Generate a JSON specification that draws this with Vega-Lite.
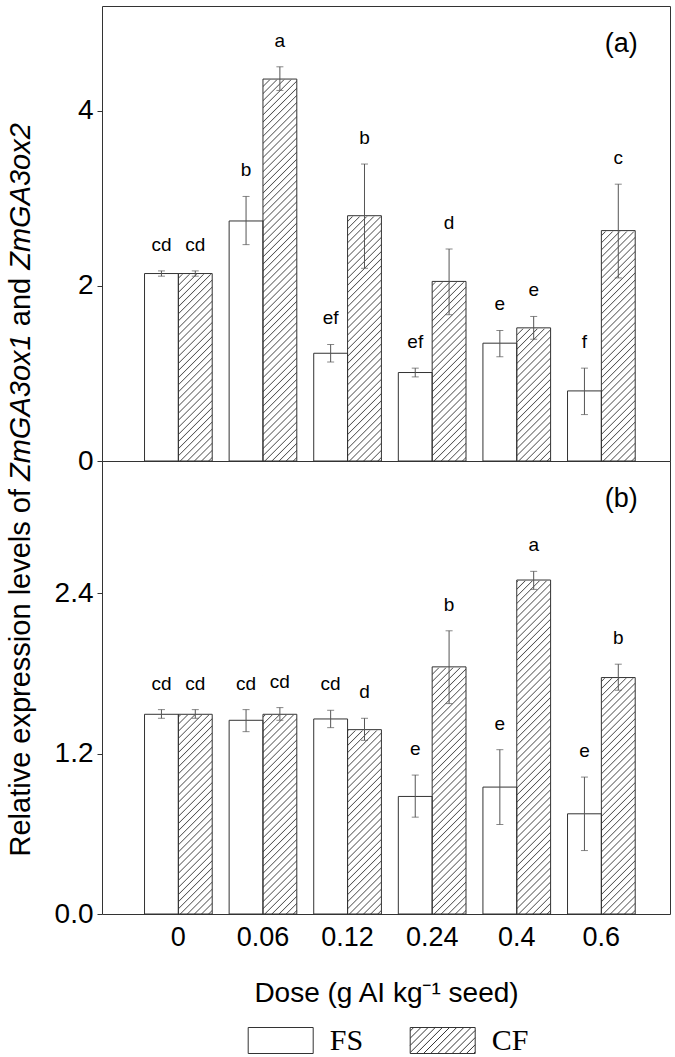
{
"$schema": "https://vega.github.io/schema/vega-lite/v6.json",
"background": "white",
"padding": 5,
"autosize": "pad",
"datasets": {
"bars": [
{"panel":"a","dose":"0","series":"FS","value":2.14,"lo":2.11,"hi":2.17,"letter":"cd"},
{"panel":"a","dose":"0","series":"CF","value":2.14,"lo":2.11,"hi":2.17,"letter":"cd"},
{"panel":"a","dose":"0.06","series":"FS","value":2.74,"lo":2.47,"hi":3.02,"letter":"b"},
{"panel":"a","dose":"0.06","series":"CF","value":4.36,"lo":4.23,"hi":4.5,"letter":"a"},
{"panel":"a","dose":"0.12","series":"FS","value":1.23,"lo":1.13,"hi":1.33,"letter":"ef"},
{"panel":"a","dose":"0.12","series":"CF","value":2.8,"lo":2.2,"hi":3.39,"letter":"b"},
{"panel":"a","dose":"0.24","series":"FS","value":1.01,"lo":0.96,"hi":1.06,"letter":"ef"},
{"panel":"a","dose":"0.24","series":"CF","value":2.05,"lo":1.67,"hi":2.42,"letter":"d"},
{"panel":"a","dose":"0.4","series":"FS","value":1.345,"lo":1.19,"hi":1.49,"letter":"e"},
{"panel":"a","dose":"0.4","series":"CF","value":1.52,"lo":1.39,"hi":1.65,"letter":"e"},
{"panel":"a","dose":"0.6","series":"FS","value":0.8,"lo":0.53,"hi":1.06,"letter":"f"},
{"panel":"a","dose":"0.6","series":"CF","value":2.63,"lo":2.09,"hi":3.16,"letter":"c"},
{"panel":"b","dose":"0","series":"FS","value":1.495,"lo":1.465,"hi":1.53,"letter":"cd"},
{"panel":"b","dose":"0","series":"CF","value":1.495,"lo":1.465,"hi":1.53,"letter":"cd"},
{"panel":"b","dose":"0.06","series":"FS","value":1.45,"lo":1.365,"hi":1.53,"letter":"cd"},
{"panel":"b","dose":"0.06","series":"CF","value":1.495,"lo":1.45,"hi":1.545,"letter":"cd"},
{"panel":"b","dose":"0.12","series":"FS","value":1.46,"lo":1.395,"hi":1.525,"letter":"cd"},
{"panel":"b","dose":"0.12","series":"CF","value":1.38,"lo":1.3,"hi":1.465,"letter":"d"},
{"panel":"b","dose":"0.24","series":"FS","value":0.88,"lo":0.725,"hi":1.04,"letter":"e"},
{"panel":"b","dose":"0.24","series":"CF","value":1.85,"lo":1.575,"hi":2.12,"letter":"b"},
{"panel":"b","dose":"0.4","series":"FS","value":0.95,"lo":0.67,"hi":1.23,"letter":"e"},
{"panel":"b","dose":"0.4","series":"CF","value":2.5,"lo":2.43,"hi":2.565,"letter":"a"},
{"panel":"b","dose":"0.6","series":"FS","value":0.75,"lo":0.475,"hi":1.025,"letter":"e"},
{"panel":"b","dose":"0.6","series":"CF","value":1.77,"lo":1.675,"hi":1.87,"letter":"b"}
]
},
"data": {"name": "bars"},
"config": {
"font": "Liberation Sans",
"view": {"stroke": "#333333", "strokeWidth": 1},
"axis": {"labelFont": "Liberation Sans", "labelColor": "#000000", "titleFont": "Liberation Sans", "titleColor": "#000000", "titleFontWeight": "normal", "domain": false, "grid": false, "tickColor": "#333333"}
},
"spacing": 0,
"bounds": "flush",
"vconcat": [
{
"width": 568,
"height": 455,
"transform": [{"filter": "datum.panel === 'a'"}],
"resolve": {"axis": {"y": "independent"}},
"layer": [
{
"transform": [{"filter": "datum.series === 'CF'"}],
"mark": {"type": "bar", "strokeWidth": 0, "fill": {"gradient": "linear", "x1": 0, "y1": 0, "x2": 0.08874, "y2": 1.0752, "stops": [
{"offset":0,"color":"#fff"},
{"offset":0.0135,"color":"#fff"},{"offset":0.016,"color":"#555"},{"offset":0.0185,"color":"#fff"},
{"offset":0.0295,"color":"#fff"},{"offset":0.032,"color":"#555"},{"offset":0.0345,"color":"#fff"},
{"offset":0.0455,"color":"#fff"},{"offset":0.048,"color":"#555"},{"offset":0.0505,"color":"#fff"},
{"offset":0.0615,"color":"#fff"},{"offset":0.064,"color":"#555"},{"offset":0.0665,"color":"#fff"},
{"offset":0.0775,"color":"#fff"},{"offset":0.08,"color":"#555"},{"offset":0.0825,"color":"#fff"},
{"offset":0.0935,"color":"#fff"},{"offset":0.096,"color":"#555"},{"offset":0.0985,"color":"#fff"},
{"offset":0.1095,"color":"#fff"},{"offset":0.112,"color":"#555"},{"offset":0.1145,"color":"#fff"},
{"offset":0.1255,"color":"#fff"},{"offset":0.128,"color":"#555"},{"offset":0.1305,"color":"#fff"},
{"offset":0.1415,"color":"#fff"},{"offset":0.144,"color":"#555"},{"offset":0.1465,"color":"#fff"},
{"offset":0.1575,"color":"#fff"},{"offset":0.16,"color":"#555"},{"offset":0.1625,"color":"#fff"},
{"offset":0.1735,"color":"#fff"},{"offset":0.176,"color":"#555"},{"offset":0.1785,"color":"#fff"},
{"offset":0.1895,"color":"#fff"},{"offset":0.192,"color":"#555"},{"offset":0.1945,"color":"#fff"},
{"offset":0.2055,"color":"#fff"},{"offset":0.208,"color":"#555"},{"offset":0.2105,"color":"#fff"},
{"offset":0.2215,"color":"#fff"},{"offset":0.224,"color":"#555"},{"offset":0.2265,"color":"#fff"},
{"offset":0.2375,"color":"#fff"},{"offset":0.24,"color":"#555"},{"offset":0.2425,"color":"#fff"},
{"offset":0.2535,"color":"#fff"},{"offset":0.256,"color":"#555"},{"offset":0.2585,"color":"#fff"},
{"offset":0.2695,"color":"#fff"},{"offset":0.272,"color":"#555"},{"offset":0.2745,"color":"#fff"},
{"offset":0.2855,"color":"#fff"},{"offset":0.288,"color":"#555"},{"offset":0.2905,"color":"#fff"},
{"offset":0.3015,"color":"#fff"},{"offset":0.304,"color":"#555"},{"offset":0.3065,"color":"#fff"},
{"offset":0.3175,"color":"#fff"},{"offset":0.32,"color":"#555"},{"offset":0.3225,"color":"#fff"},
{"offset":0.3335,"color":"#fff"},{"offset":0.336,"color":"#555"},{"offset":0.3385,"color":"#fff"},
{"offset":0.3495,"color":"#fff"},{"offset":0.352,"color":"#555"},{"offset":0.3545,"color":"#fff"},
{"offset":0.3655,"color":"#fff"},{"offset":0.368,"color":"#555"},{"offset":0.3705,"color":"#fff"},
{"offset":0.3815,"color":"#fff"},{"offset":0.384,"color":"#555"},{"offset":0.3865,"color":"#fff"},
{"offset":0.3975,"color":"#fff"},{"offset":0.4,"color":"#555"},{"offset":0.4025,"color":"#fff"},
{"offset":0.4135,"color":"#fff"},{"offset":0.416,"color":"#555"},{"offset":0.4185,"color":"#fff"},
{"offset":0.4295,"color":"#fff"},{"offset":0.432,"color":"#555"},{"offset":0.4345,"color":"#fff"},
{"offset":0.4455,"color":"#fff"},{"offset":0.448,"color":"#555"},{"offset":0.4505,"color":"#fff"},
{"offset":0.4615,"color":"#fff"},{"offset":0.464,"color":"#555"},{"offset":0.4665,"color":"#fff"},
{"offset":0.4775,"color":"#fff"},{"offset":0.48,"color":"#555"},{"offset":0.4825,"color":"#fff"},
{"offset":0.4935,"color":"#fff"},{"offset":0.496,"color":"#555"},{"offset":0.4985,"color":"#fff"},
{"offset":0.5095,"color":"#fff"},{"offset":0.512,"color":"#555"},{"offset":0.5145,"color":"#fff"},
{"offset":0.5255,"color":"#fff"},{"offset":0.528,"color":"#555"},{"offset":0.5305,"color":"#fff"},
{"offset":0.5415,"color":"#fff"},{"offset":0.544,"color":"#555"},{"offset":0.5465,"color":"#fff"},
{"offset":0.5575,"color":"#fff"},{"offset":0.56,"color":"#555"},{"offset":0.5625,"color":"#fff"},
{"offset":0.5735,"color":"#fff"},{"offset":0.576,"color":"#555"},{"offset":0.5785,"color":"#fff"},
{"offset":0.5895,"color":"#fff"},{"offset":0.592,"color":"#555"},{"offset":0.5945,"color":"#fff"},
{"offset":0.6055,"color":"#fff"},{"offset":0.608,"color":"#555"},{"offset":0.6105,"color":"#fff"},
{"offset":0.6215,"color":"#fff"},{"offset":0.624,"color":"#555"},{"offset":0.6265,"color":"#fff"},
{"offset":0.6375,"color":"#fff"},{"offset":0.64,"color":"#555"},{"offset":0.6425,"color":"#fff"},
{"offset":0.6535,"color":"#fff"},{"offset":0.656,"color":"#555"},{"offset":0.6585,"color":"#fff"},
{"offset":0.6695,"color":"#fff"},{"offset":0.672,"color":"#555"},{"offset":0.6745,"color":"#fff"},
{"offset":0.6855,"color":"#fff"},{"offset":0.688,"color":"#555"},{"offset":0.6905,"color":"#fff"},
{"offset":0.7015,"color":"#fff"},{"offset":0.704,"color":"#555"},{"offset":0.7065,"color":"#fff"},
{"offset":0.7175,"color":"#fff"},{"offset":0.72,"color":"#555"},{"offset":0.7225,"color":"#fff"},
{"offset":0.7335,"color":"#fff"},{"offset":0.736,"color":"#555"},{"offset":0.7385,"color":"#fff"},
{"offset":0.7495,"color":"#fff"},{"offset":0.752,"color":"#555"},{"offset":0.7545,"color":"#fff"},
{"offset":0.7655,"color":"#fff"},{"offset":0.768,"color":"#555"},{"offset":0.7705,"color":"#fff"},
{"offset":0.7815,"color":"#fff"},{"offset":0.784,"color":"#555"},{"offset":0.7865,"color":"#fff"},
{"offset":0.7975,"color":"#fff"},{"offset":0.8,"color":"#555"},{"offset":0.8025,"color":"#fff"},
{"offset":0.8135,"color":"#fff"},{"offset":0.816,"color":"#555"},{"offset":0.8185,"color":"#fff"},
{"offset":0.8295,"color":"#fff"},{"offset":0.832,"color":"#555"},{"offset":0.8345,"color":"#fff"},
{"offset":0.8455,"color":"#fff"},{"offset":0.848,"color":"#555"},{"offset":0.8505,"color":"#fff"},
{"offset":0.8615,"color":"#fff"},{"offset":0.864,"color":"#555"},{"offset":0.8665,"color":"#fff"},
{"offset":0.8775,"color":"#fff"},{"offset":0.88,"color":"#555"},{"offset":0.8825,"color":"#fff"},
{"offset":0.8935,"color":"#fff"},{"offset":0.896,"color":"#555"},{"offset":0.8985,"color":"#fff"},
{"offset":0.9095,"color":"#fff"},{"offset":0.912,"color":"#555"},{"offset":0.9145,"color":"#fff"},
{"offset":0.9255,"color":"#fff"},{"offset":0.928,"color":"#555"},{"offset":0.9305,"color":"#fff"},
{"offset":0.9415,"color":"#fff"},{"offset":0.944,"color":"#555"},{"offset":0.9465,"color":"#fff"},
{"offset":0.9575,"color":"#fff"},{"offset":0.96,"color":"#555"},{"offset":0.9625,"color":"#fff"},
{"offset":0.9735,"color":"#fff"},{"offset":0.976,"color":"#555"},{"offset":0.9785,"color":"#fff"},
{"offset":0.9895,"color":"#fff"},{"offset":0.992,"color":"#555"},{"offset":0.9945,"color":"#fff"},
{"offset":1,"color":"#fff"}]}},
"encoding": {
"x": {"field": "dose", "type": "ordinal", "scale": {"domain": ["0","0.06","0.12","0.24","0.4","0.6"], "paddingInner": 0.2, "paddingOuter": 0.457, "align": 0.55}, "axis": null},
"xOffset": {"field": "series", "type": "nominal", "scale": {"domain": ["FS","CF"], "paddingInner": 0, "paddingOuter": 0}},
"y": {"datum": 4.68, "type": "quantitative", "scale": {"domain": [0, 5.194], "nice": false, "zero": true}, "axis": null},
"y2": {"datum": 0}
}
},
{
"transform": [{"filter": "datum.series === 'CF'"}],
"mark": {"type": "bar", "fill": "white", "stroke": "white", "strokeWidth": 1.6},
"encoding": {
"x": {"field": "dose", "type": "ordinal", "scale": {"domain": ["0","0.06","0.12","0.24","0.4","0.6"], "paddingInner": 0.2, "paddingOuter": 0.457, "align": 0.55}, "axis": null},
"xOffset": {"field": "series", "type": "nominal", "scale": {"domain": ["FS","CF"], "paddingInner": 0, "paddingOuter": 0}},
"y": {"field": "value", "type": "quantitative", "scale": {"domain": [0, 5.194], "nice": false, "zero": true}, "axis": null},
"y2": {"datum": 4.68}
}
},
{
"mark": {"type": "bar", "stroke": "#333333", "strokeWidth": 1},
"encoding": {
"x": {"field": "dose", "type": "ordinal", "scale": {"domain": ["0","0.06","0.12","0.24","0.4","0.6"], "paddingInner": 0.2, "paddingOuter": 0.457, "align": 0.55}, "axis": null},
"xOffset": {"field": "series", "type": "nominal", "scale": {"domain": ["FS","CF"], "paddingInner": 0, "paddingOuter": 0}},
"y": {"field": "value", "type": "quantitative", "scale": {"domain": [0, 5.194], "nice": false, "zero": true},
 "axis": {"orient": "left", "values": [0, 2, 4], "format": "d", "labelFontSize": 28, "labelPadding": 4, "ticks": true, "tickSize": 5, "domain": false, "grid": false,
  "title": "and", "titleFontSize": 29, "titleFontStyle": "normal", "titleAngle": 270, "titleAlign": "left", "titleBaseline": "top", "titleX": -96, "titleY": 319.7}},
"fill": {"condition": {"test": "datum.series === 'FS'", "value": "white"}, "value": "rgba(0,0,0,0)"}
}
},
{
"mark": {"type": "rule", "color": "#555555", "strokeWidth": 1},
"encoding": {
"x": {"field": "dose", "type": "ordinal", "scale": {"domain": ["0","0.06","0.12","0.24","0.4","0.6"], "paddingInner": 0.2, "paddingOuter": 0.457, "align": 0.55}, "axis": null},
"xOffset": {"field": "series", "type": "nominal", "scale": {"domain": ["FS","CF"], "paddingInner": 0, "paddingOuter": 0}},
"y": {"field": "lo", "type": "quantitative", "scale": {"domain": [0, 5.194], "nice": false, "zero": true}, "axis": null},
"y2": {"field": "hi"}
}
},
{
"mark": {"type": "tick", "color": "#555555", "size": 7, "thickness": 1},
"encoding": {
"x": {"field": "dose", "type": "ordinal", "scale": {"domain": ["0","0.06","0.12","0.24","0.4","0.6"], "paddingInner": 0.2, "paddingOuter": 0.457, "align": 0.55}, "axis": null},
"xOffset": {"field": "series", "type": "nominal", "scale": {"domain": ["FS","CF"], "paddingInner": 0, "paddingOuter": 0}},
"y": {"field": "lo", "type": "quantitative", "scale": {"domain": [0, 5.194], "nice": false, "zero": true}, "axis": null}
}
},
{
"mark": {"type": "tick", "color": "#555555", "size": 7, "thickness": 1},
"encoding": {
"x": {"field": "dose", "type": "ordinal", "scale": {"domain": ["0","0.06","0.12","0.24","0.4","0.6"], "paddingInner": 0.2, "paddingOuter": 0.457, "align": 0.55}, "axis": null},
"xOffset": {"field": "series", "type": "nominal", "scale": {"domain": ["FS","CF"], "paddingInner": 0, "paddingOuter": 0}},
"y": {"field": "hi", "type": "quantitative", "scale": {"domain": [0, 5.194], "nice": false, "zero": true}, "axis": null}
}
},
{
"mark": {"type": "text", "fontSize": 19, "baseline": "middle", "align": "center", "dy": -26, "color": "#000000", "font": "Liberation Sans"},
"encoding": {
"x": {"field": "dose", "type": "ordinal", "scale": {"domain": ["0","0.06","0.12","0.24","0.4","0.6"], "paddingInner": 0.2, "paddingOuter": 0.457, "align": 0.55}, "axis": null},
"xOffset": {"field": "series", "type": "nominal", "scale": {"domain": ["FS","CF"], "paddingInner": 0, "paddingOuter": 0}},
"y": {"field": "hi", "type": "quantitative", "scale": {"domain": [0, 5.194], "nice": false, "zero": true},
 "axis": {"orient": "left", "labels": false, "ticks": false, "domain": false, "grid": false,
  "title": "ZmGA3ox2", "titleFontSize": 29, "titleFontStyle": "italic", "titleAngle": 270, "titleAlign": "left", "titleBaseline": "top", "titleX": -96, "titleY": 263.3}},
"text": {"field": "letter"}
}
},
{
"data": {"values": [{"label": "(a)"}]},
"mark": {"type": "text", "fontSize": 27, "baseline": "middle", "align": "center", "dx": 3, "color": "#000000", "font": "Liberation Sans"},
"encoding": {
"x": {"datum": "0.6", "type": "ordinal", "scale": {"domain": ["0","0.06","0.12","0.24","0.4","0.6"], "paddingInner": 0.2, "paddingOuter": 0.457, "align": 0.55}, "axis": null},
"xOffset": {"datum": "CF", "type": "nominal", "scale": {"domain": ["FS","CF"], "paddingInner": 0, "paddingOuter": 0}},
"y": {"datum": 4.76, "type": "quantitative", "scale": {"domain": [0, 5.194], "nice": false, "zero": true}, "axis": null},
"text": {"field": "label"}
}
}
]
},
{
"width": 568,
"height": 453,
"transform": [{"filter": "datum.panel === 'b'"}],
"resolve": {"axis": {"y": "independent"}},
"layer": [
{
"transform": [{"filter": "datum.series === 'CF'"}],
"mark": {"type": "bar", "strokeWidth": 0, "fill": {"gradient": "linear", "x1": 0, "y1": 0, "x2": 0.08874, "y2": 1.0752, "stops": [
{"offset":0,"color":"#fff"},
{"offset":0.0135,"color":"#fff"},{"offset":0.016,"color":"#555"},{"offset":0.0185,"color":"#fff"},
{"offset":0.0295,"color":"#fff"},{"offset":0.032,"color":"#555"},{"offset":0.0345,"color":"#fff"},
{"offset":0.0455,"color":"#fff"},{"offset":0.048,"color":"#555"},{"offset":0.0505,"color":"#fff"},
{"offset":0.0615,"color":"#fff"},{"offset":0.064,"color":"#555"},{"offset":0.0665,"color":"#fff"},
{"offset":0.0775,"color":"#fff"},{"offset":0.08,"color":"#555"},{"offset":0.0825,"color":"#fff"},
{"offset":0.0935,"color":"#fff"},{"offset":0.096,"color":"#555"},{"offset":0.0985,"color":"#fff"},
{"offset":0.1095,"color":"#fff"},{"offset":0.112,"color":"#555"},{"offset":0.1145,"color":"#fff"},
{"offset":0.1255,"color":"#fff"},{"offset":0.128,"color":"#555"},{"offset":0.1305,"color":"#fff"},
{"offset":0.1415,"color":"#fff"},{"offset":0.144,"color":"#555"},{"offset":0.1465,"color":"#fff"},
{"offset":0.1575,"color":"#fff"},{"offset":0.16,"color":"#555"},{"offset":0.1625,"color":"#fff"},
{"offset":0.1735,"color":"#fff"},{"offset":0.176,"color":"#555"},{"offset":0.1785,"color":"#fff"},
{"offset":0.1895,"color":"#fff"},{"offset":0.192,"color":"#555"},{"offset":0.1945,"color":"#fff"},
{"offset":0.2055,"color":"#fff"},{"offset":0.208,"color":"#555"},{"offset":0.2105,"color":"#fff"},
{"offset":0.2215,"color":"#fff"},{"offset":0.224,"color":"#555"},{"offset":0.2265,"color":"#fff"},
{"offset":0.2375,"color":"#fff"},{"offset":0.24,"color":"#555"},{"offset":0.2425,"color":"#fff"},
{"offset":0.2535,"color":"#fff"},{"offset":0.256,"color":"#555"},{"offset":0.2585,"color":"#fff"},
{"offset":0.2695,"color":"#fff"},{"offset":0.272,"color":"#555"},{"offset":0.2745,"color":"#fff"},
{"offset":0.2855,"color":"#fff"},{"offset":0.288,"color":"#555"},{"offset":0.2905,"color":"#fff"},
{"offset":0.3015,"color":"#fff"},{"offset":0.304,"color":"#555"},{"offset":0.3065,"color":"#fff"},
{"offset":0.3175,"color":"#fff"},{"offset":0.32,"color":"#555"},{"offset":0.3225,"color":"#fff"},
{"offset":0.3335,"color":"#fff"},{"offset":0.336,"color":"#555"},{"offset":0.3385,"color":"#fff"},
{"offset":0.3495,"color":"#fff"},{"offset":0.352,"color":"#555"},{"offset":0.3545,"color":"#fff"},
{"offset":0.3655,"color":"#fff"},{"offset":0.368,"color":"#555"},{"offset":0.3705,"color":"#fff"},
{"offset":0.3815,"color":"#fff"},{"offset":0.384,"color":"#555"},{"offset":0.3865,"color":"#fff"},
{"offset":0.3975,"color":"#fff"},{"offset":0.4,"color":"#555"},{"offset":0.4025,"color":"#fff"},
{"offset":0.4135,"color":"#fff"},{"offset":0.416,"color":"#555"},{"offset":0.4185,"color":"#fff"},
{"offset":0.4295,"color":"#fff"},{"offset":0.432,"color":"#555"},{"offset":0.4345,"color":"#fff"},
{"offset":0.4455,"color":"#fff"},{"offset":0.448,"color":"#555"},{"offset":0.4505,"color":"#fff"},
{"offset":0.4615,"color":"#fff"},{"offset":0.464,"color":"#555"},{"offset":0.4665,"color":"#fff"},
{"offset":0.4775,"color":"#fff"},{"offset":0.48,"color":"#555"},{"offset":0.4825,"color":"#fff"},
{"offset":0.4935,"color":"#fff"},{"offset":0.496,"color":"#555"},{"offset":0.4985,"color":"#fff"},
{"offset":0.5095,"color":"#fff"},{"offset":0.512,"color":"#555"},{"offset":0.5145,"color":"#fff"},
{"offset":0.5255,"color":"#fff"},{"offset":0.528,"color":"#555"},{"offset":0.5305,"color":"#fff"},
{"offset":0.5415,"color":"#fff"},{"offset":0.544,"color":"#555"},{"offset":0.5465,"color":"#fff"},
{"offset":0.5575,"color":"#fff"},{"offset":0.56,"color":"#555"},{"offset":0.5625,"color":"#fff"},
{"offset":0.5735,"color":"#fff"},{"offset":0.576,"color":"#555"},{"offset":0.5785,"color":"#fff"},
{"offset":0.5895,"color":"#fff"},{"offset":0.592,"color":"#555"},{"offset":0.5945,"color":"#fff"},
{"offset":0.6055,"color":"#fff"},{"offset":0.608,"color":"#555"},{"offset":0.6105,"color":"#fff"},
{"offset":0.6215,"color":"#fff"},{"offset":0.624,"color":"#555"},{"offset":0.6265,"color":"#fff"},
{"offset":0.6375,"color":"#fff"},{"offset":0.64,"color":"#555"},{"offset":0.6425,"color":"#fff"},
{"offset":0.6535,"color":"#fff"},{"offset":0.656,"color":"#555"},{"offset":0.6585,"color":"#fff"},
{"offset":0.6695,"color":"#fff"},{"offset":0.672,"color":"#555"},{"offset":0.6745,"color":"#fff"},
{"offset":0.6855,"color":"#fff"},{"offset":0.688,"color":"#555"},{"offset":0.6905,"color":"#fff"},
{"offset":0.7015,"color":"#fff"},{"offset":0.704,"color":"#555"},{"offset":0.7065,"color":"#fff"},
{"offset":0.7175,"color":"#fff"},{"offset":0.72,"color":"#555"},{"offset":0.7225,"color":"#fff"},
{"offset":0.7335,"color":"#fff"},{"offset":0.736,"color":"#555"},{"offset":0.7385,"color":"#fff"},
{"offset":0.7495,"color":"#fff"},{"offset":0.752,"color":"#555"},{"offset":0.7545,"color":"#fff"},
{"offset":0.7655,"color":"#fff"},{"offset":0.768,"color":"#555"},{"offset":0.7705,"color":"#fff"},
{"offset":0.7815,"color":"#fff"},{"offset":0.784,"color":"#555"},{"offset":0.7865,"color":"#fff"},
{"offset":0.7975,"color":"#fff"},{"offset":0.8,"color":"#555"},{"offset":0.8025,"color":"#fff"},
{"offset":0.8135,"color":"#fff"},{"offset":0.816,"color":"#555"},{"offset":0.8185,"color":"#fff"},
{"offset":0.8295,"color":"#fff"},{"offset":0.832,"color":"#555"},{"offset":0.8345,"color":"#fff"},
{"offset":0.8455,"color":"#fff"},{"offset":0.848,"color":"#555"},{"offset":0.8505,"color":"#fff"},
{"offset":0.8615,"color":"#fff"},{"offset":0.864,"color":"#555"},{"offset":0.8665,"color":"#fff"},
{"offset":0.8775,"color":"#fff"},{"offset":0.88,"color":"#555"},{"offset":0.8825,"color":"#fff"},
{"offset":0.8935,"color":"#fff"},{"offset":0.896,"color":"#555"},{"offset":0.8985,"color":"#fff"},
{"offset":0.9095,"color":"#fff"},{"offset":0.912,"color":"#555"},{"offset":0.9145,"color":"#fff"},
{"offset":0.9255,"color":"#fff"},{"offset":0.928,"color":"#555"},{"offset":0.9305,"color":"#fff"},
{"offset":0.9415,"color":"#fff"},{"offset":0.944,"color":"#555"},{"offset":0.9465,"color":"#fff"},
{"offset":0.9575,"color":"#fff"},{"offset":0.96,"color":"#555"},{"offset":0.9625,"color":"#fff"},
{"offset":0.9735,"color":"#fff"},{"offset":0.976,"color":"#555"},{"offset":0.9785,"color":"#fff"},
{"offset":0.9895,"color":"#fff"},{"offset":0.992,"color":"#555"},{"offset":0.9945,"color":"#fff"},
{"offset":1,"color":"#fff"}]}},
"encoding": {
"x": {"field": "dose", "type": "ordinal", "scale": {"domain": ["0","0.06","0.12","0.24","0.4","0.6"], "paddingInner": 0.2, "paddingOuter": 0.457, "align": 0.55}},
"xOffset": {"field": "series", "type": "nominal", "scale": {"domain": ["FS","CF"], "paddingInner": 0, "paddingOuter": 0}},
"y": {"datum": 3.069, "type": "quantitative", "scale": {"domain": [0, 3.391], "nice": false, "zero": true}, "axis": null},
"y2": {"datum": 0}
}
},
{
"transform": [{"filter": "datum.series === 'CF'"}],
"mark": {"type": "bar", "fill": "white", "stroke": "white", "strokeWidth": 1.6},
"encoding": {
"x": {"field": "dose", "type": "ordinal", "scale": {"domain": ["0","0.06","0.12","0.24","0.4","0.6"], "paddingInner": 0.2, "paddingOuter": 0.457, "align": 0.55}},
"xOffset": {"field": "series", "type": "nominal", "scale": {"domain": ["FS","CF"], "paddingInner": 0, "paddingOuter": 0}},
"y": {"field": "value", "type": "quantitative", "scale": {"domain": [0, 3.391], "nice": false, "zero": true}, "axis": null},
"y2": {"datum": 3.069}
}
},
{
"mark": {"type": "bar", "stroke": "#333333", "strokeWidth": 1},
"encoding": {
"x": {"field": "dose", "type": "ordinal", "scale": {"domain": ["0","0.06","0.12","0.24","0.4","0.6"], "paddingInner": 0.2, "paddingOuter": 0.457, "align": 0.55},
 "axis": {"labelAngle": 0, "labelAlign": "center", "labelBaseline": "top", "labelFontSize": 27, "labelPadding": 10, "ticks": false, "tickSize": 0, "domain": false, "grid": false,
  "title": "Dose (g AI kg⁻¹ seed)", "titleFontSize": 28, "titleAlign": "center", "titleBaseline": "alphabetic", "titleX": 284, "titleY": 87}},
"xOffset": {"field": "series", "type": "nominal", "scale": {"domain": ["FS","CF"], "paddingInner": 0, "paddingOuter": 0}},
"y": {"field": "value", "type": "quantitative", "scale": {"domain": [0, 3.391], "nice": false, "zero": true},
 "axis": {"orient": "left", "values": [0, 1.2, 2.4], "format": ".1f", "labelFontSize": 28, "labelPadding": 4, "ticks": true, "tickSize": 5, "domain": false, "grid": false,
  "title": "Relative expression levels of", "titleFontSize": 29, "titleFontStyle": "normal", "titleAngle": 270, "titleAlign": "left", "titleBaseline": "top", "titleX": -96, "titleY": 395}},
"fill": {"condition": {"test": "datum.series === 'FS'", "value": "white"}, "value": "rgba(0,0,0,0)"}
}
},
{
"mark": {"type": "rule", "color": "#555555", "strokeWidth": 1},
"encoding": {
"x": {"field": "dose", "type": "ordinal", "scale": {"domain": ["0","0.06","0.12","0.24","0.4","0.6"], "paddingInner": 0.2, "paddingOuter": 0.457, "align": 0.55}},
"xOffset": {"field": "series", "type": "nominal", "scale": {"domain": ["FS","CF"], "paddingInner": 0, "paddingOuter": 0}},
"y": {"field": "lo", "type": "quantitative", "scale": {"domain": [0, 3.391], "nice": false, "zero": true}, "axis": null},
"y2": {"field": "hi"}
}
},
{
"mark": {"type": "tick", "color": "#555555", "size": 7, "thickness": 1},
"encoding": {
"x": {"field": "dose", "type": "ordinal", "scale": {"domain": ["0","0.06","0.12","0.24","0.4","0.6"], "paddingInner": 0.2, "paddingOuter": 0.457, "align": 0.55}},
"xOffset": {"field": "series", "type": "nominal", "scale": {"domain": ["FS","CF"], "paddingInner": 0, "paddingOuter": 0}},
"y": {"field": "lo", "type": "quantitative", "scale": {"domain": [0, 3.391], "nice": false, "zero": true}, "axis": null}
}
},
{
"mark": {"type": "tick", "color": "#555555", "size": 7, "thickness": 1},
"encoding": {
"x": {"field": "dose", "type": "ordinal", "scale": {"domain": ["0","0.06","0.12","0.24","0.4","0.6"], "paddingInner": 0.2, "paddingOuter": 0.457, "align": 0.55}},
"xOffset": {"field": "series", "type": "nominal", "scale": {"domain": ["FS","CF"], "paddingInner": 0, "paddingOuter": 0}},
"y": {"field": "hi", "type": "quantitative", "scale": {"domain": [0, 3.391], "nice": false, "zero": true}, "axis": null}
}
},
{
"mark": {"type": "text", "fontSize": 19, "baseline": "middle", "align": "center", "dy": -26, "color": "#000000", "font": "Liberation Sans"},
"encoding": {
"x": {"field": "dose", "type": "ordinal", "scale": {"domain": ["0","0.06","0.12","0.24","0.4","0.6"], "paddingInner": 0.2, "paddingOuter": 0.457, "align": 0.55}},
"xOffset": {"field": "series", "type": "nominal", "scale": {"domain": ["FS","CF"], "paddingInner": 0, "paddingOuter": 0}},
"y": {"field": "hi", "type": "quantitative", "scale": {"domain": [0, 3.391], "nice": false, "zero": true},
 "axis": {"orient": "left", "labels": false, "ticks": false, "domain": false, "grid": false,
  "title": "ZmGA3ox1", "titleFontSize": 29, "titleFontStyle": "italic", "titleAngle": 270, "titleAlign": "left", "titleBaseline": "top", "titleX": -96, "titleY": 19.5}},
"text": {"field": "letter"}
}
},
{
"mark": {"type": "point", "opacity": 0, "filled": false, "color": "#333333"},
"encoding": {
"x": {"field": "dose", "type": "ordinal", "scale": {"domain": ["0","0.06","0.12","0.24","0.4","0.6"], "paddingInner": 0.2, "paddingOuter": 0.457, "align": 0.55}},
"xOffset": {"field": "series", "type": "nominal", "scale": {"domain": ["FS","CF"], "paddingInner": 0, "paddingOuter": 0}},
"y": {"datum": 0, "type": "quantitative", "scale": {"domain": [0, 3.391], "nice": false, "zero": true}, "axis": null},
"shape": {"field": "series", "type": "nominal",
 "scale": {"domain": ["FS","CF"], "range": ["M-1,-0.4L1,-0.4L1,0.4L-1,0.4Z", "M-1,-0.4L1,-0.4L1,0.4L-1,0.4Z M-1,-0.29L-0.89,-0.4 M-1,-0.07L-0.67,-0.4 M-1,0.15L-0.45,-0.4 M-1,0.37L-0.23,-0.4 M-0.81,0.4L-0.01,-0.4 M-0.59,0.4L0.21,-0.4 M-0.37,0.4L0.43,-0.4 M-0.15,0.4L0.65,-0.4 M0.07,0.4L0.87,-0.4 M0.29,0.4L1,-0.31 M0.51,0.4L1,-0.09 M0.73,0.4L1,0.13 M0.95,0.4L1,0.35"]},
 "legend": {"orient": "none", "legendX": 145.7, "legendY": 1001.5, "direction": "horizontal", "title": null,
  "symbolSize": 4225, "symbolStrokeColor": "#333333", "symbolStrokeWidth": 1, "symbolOpacity": 1, "symbolFillColor": "#ffffff",
  "labelFont": "Liberation Serif", "labelFontSize": 30, "labelColor": "#000000", "labelOffset": 16, "columnPadding": 44, "padding": 0}}
}
},
{
"data": {"values": [{"label": "(b)"}]},
"mark": {"type": "text", "fontSize": 27, "baseline": "middle", "align": "center", "dx": 3, "color": "#000000", "font": "Liberation Sans"},
"encoding": {
"x": {"datum": "0.6", "type": "ordinal", "scale": {"domain": ["0","0.06","0.12","0.24","0.4","0.6"], "paddingInner": 0.2, "paddingOuter": 0.457, "align": 0.55}},
"xOffset": {"datum": "CF", "type": "nominal", "scale": {"domain": ["FS","CF"], "paddingInner": 0, "paddingOuter": 0}},
"y": {"datum": 3.107, "type": "quantitative", "scale": {"domain": [0, 3.391], "nice": false, "zero": true}, "axis": null},
"text": {"field": "label"}
}
}
]
}
]
}
